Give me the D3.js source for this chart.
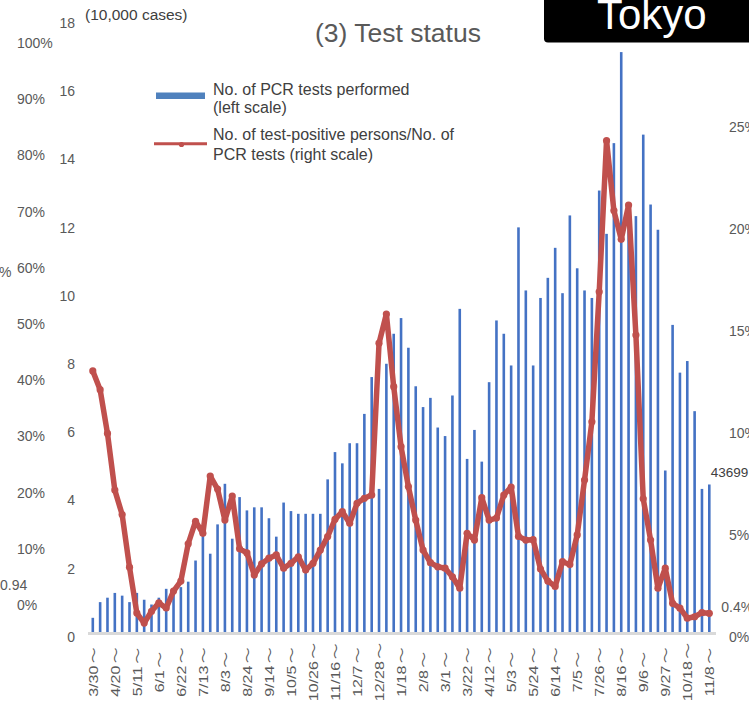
<!DOCTYPE html>
<html>
<head>
<meta charset="utf-8">
<script src="https://cdn.jsdelivr.net/npm/d3@7/dist/d3.min.js"></script>
<style>
  body { margin: 0; background: #fff; }
  svg { display: block; font-family: "Liberation Sans", Arial, "Noto Sans CJK JP", sans-serif; }
</style>
</head>
<body>
<div id="chart"></div>
<script>
// week start dates (3/30/2020 - 11/8/2021)
var weeks = ["3/30","4/6","4/13","4/20","4/27","5/4","5/11","5/18","5/25","6/1",
  "6/8","6/15","6/22","6/29","7/6","7/13","7/20","7/27","8/3","8/10",
  "8/17","8/24","8/31","9/7","9/14","9/21","9/28","10/5","10/12","10/19",
  "10/26","11/2","11/9","11/16","11/23","11/30","12/7","12/14","12/21","12/28",
  "1/4","1/11","1/18","1/25","2/1","2/8","2/15","2/22","3/1","3/8",
  "3/15","3/22","3/29","4/5","4/12","4/19","4/26","5/3","5/10","5/17",
  "5/24","5/31","6/7","6/14","6/21","6/28","7/5","7/12","7/19","7/26",
  "8/2","8/9","8/16","8/23","8/30","9/6","9/13","9/20","9/27","10/4",
  "10/11","10/18","10/25","11/1","11/8"];

// labels shown on the x axis
var tickWeeks = ["3/30","4/20","5/11","6/1","6/22","7/13","8/3","8/24","9/14","10/5",
  "10/26","11/16","12/7","12/28","1/18","2/8","3/1","3/22","4/12","5/3",
  "5/24","6/14","7/5","7/26","8/16","9/6","9/27","10/18","11/8"];

// No. of PCR tests performed (10,000 cases)
var pcrTests = [0.46,0.92,1.05,1.19,1.11,0.92,1.19,0.99,0.85,1.05,
  1.31,1.26,1.36,1.52,2.14,2.92,2.34,3.20,4.39,2.78,
  4.00,3.61,3.70,3.70,3.38,2.84,3.84,3.59,3.51,3.51,
  3.51,3.51,4.52,5.32,4.99,5.58,5.58,6.44,7.52,4.24,
  7.91,8.79,9.25,8.38,7.25,6.64,6.91,6.04,5.79,6.98,
  9.52,5.12,5.97,5.04,7.37,9.18,8.79,7.86,11.91,10.06,
  7.86,9.84,10.43,11.31,9.98,12.26,10.71,10.06,9.84,12.99,
  11.72,14.38,17.05,12.00,12.24,14.63,12.58,11.84,4.78,9.05,
  7.65,7.99,6.52,4.24,4.3699];

// test-positive persons / PCR tests (%)
var positiveRate = [12.87,11.95,9.81,7.03,5.83,3.25,1.00,0.51,1.09,1.50,
  1.25,2.08,2.57,4.40,5.50,4.91,7.72,7.08,5.56,6.74,
  4.15,3.95,2.87,3.41,3.69,3.85,3.20,3.44,3.76,3.11,
  3.44,4.09,4.75,5.60,5.97,5.40,6.38,6.63,6.79,14.23,
  15.66,12.10,9.16,7.20,5.56,4.09,3.47,3.27,3.20,2.78,
  2.22,4.91,4.58,6.66,5.56,5.66,6.79,7.18,4.76,4.58,
  4.60,3.16,2.57,2.31,3.52,3.38,4.83,7.52,10.38,16.75,
  24.16,20.73,19.32,21.00,14.63,6.60,4.58,2.22,3.20,1.48,
  1.24,0.75,0.82,1.02,0.99];

var leftTicks = [0,2,4,6,8,10,12,14,16,18];
var rightTicks = [0,5,10,15,20,25];
var pctTicks = [0,10,20,30,40,50,60,70,80,90,100];

var width = 749, height = 707;
var blue = "#4472C4", red = "#C0504D", grey = "#595959";

var svg = d3.select("#chart").append("svg")
    .attr("width", width)
    .attr("height", height);

svg.append("rect")
    .attr("width", width)
    .attr("height", height)
    .attr("fill", "#fff");

// scales
var x = d3.scalePoint()
    .domain(d3.range(weeks.length))
    .range([92.8, 709.3]);

var yL = d3.scaleLinear().domain([0, 18]).range([633.5, 19.7]);
var yR = d3.scaleLinear().domain([0, 30]).range([633.5, 21.5]);
var yP = d3.scaleLinear().domain([0, 100]).range([605, 43]);

// left axis (10,000 cases)
var gL = svg.append("g")
    .attr("transform", "translate(75,0)")
    .call(d3.axisLeft(yL).tickValues(leftTicks).tickSize(0).tickPadding(0));

// right axis (%)
var gR = svg.append("g")
    .attr("transform", "translate(729,0)")
    .call(d3.axisRight(yR).tickValues(rightTicks).tickSize(0).tickPadding(0)
      .tickFormat(function(d) { return d + "%"; }));

// far left percent axis
var gP = svg.append("g")
    .attr("transform", "translate(17,0)")
    .call(d3.axisRight(yP).tickValues(pctTicks).tickSize(0).tickPadding(0)
      .tickFormat(function(d) { return d + "%"; }));

[gL, gR, gP].forEach(function(g) {
  g.select(".domain").remove();
  g.selectAll("text")
      .attr("fill", grey)
      .style("font-size", "14px")
      .style("font-family", "Liberation Sans, Arial, sans-serif");
});
gL.selectAll("text").attr("dy", "0.55em");
gR.selectAll("text").attr("dy", "0.55em");

// bars
svg.append("g").selectAll("rect")
    .data(pcrTests)
  .enter().append("rect")
    .attr("x", function(d, i) { return x(i) - 1.3; })
    .attr("y", function(d) { return yL(d); })
    .attr("width", 2.6)
    .attr("height", function(d) { return yL(0) - yL(d); })
    .attr("fill", blue);

// x axis
var tickIdx = weeks.map(function(w, i) { return tickWeeks.indexOf(w) >= 0 ? i : -1; })
    .filter(function(i) { return i >= 0; });

var gX = svg.append("g")
    .attr("transform", "translate(0," + yL(0) + ")")
    .call(d3.axisBottom(x).tickValues(tickIdx).tickSize(0)
      .tickFormat(function(i) { return weeks[i]; }));

gX.select(".domain")
    .attr("d", "M88,0H716")
    .attr("stroke", "#D9D9D9")
    .attr("stroke-width", 3);

// rotated, centred labels: date then wave mark
gX.selectAll(".tick text")
    .attr("y", 0)
    .attr("dy", "0.35em")
    .attr("fill", grey)
    .attr("text-anchor", "middle")
    .attr("transform", "translate(0,38.5) rotate(-90) scale(1.23,1)")
    .style("font-size", "13px")
  .append("tspan")
    .attr("dx", 2)
    .style("font-family", "Noto Sans CJK JP, sans-serif")
    .text("～");

// positive rate line
var line = d3.line()
    .x(function(d, i) { return x(i); })
    .y(function(d) { return yR(d); });

svg.append("path")
    .datum(positiveRate)
    .attr("fill", "none")
    .attr("stroke", red)
    .attr("stroke-width", 5.5)
    .attr("stroke-linejoin", "round")
    .attr("stroke-linecap", "round")
    .attr("d", line);

svg.append("g").selectAll("circle")
    .data(positiveRate)
  .enter().append("circle")
    .attr("cx", function(d, i) { return x(i); })
    .attr("cy", function(d) { return yR(d); })
    .attr("r", 3.6)
    .attr("fill", red);

// value labels
var last = pcrTests.length - 1;
svg.append("text")
    .attr("x", x(last) + 1.5)
    .attr("y", yL(pcrTests[last]) - 7)
    .attr("fill", "#404040")
    .style("font-size", "13.5px")
    .text("43699");

svg.append("text")
    .attr("x", x(last) + 12)
    .attr("y", yR(positiveRate[last]) - 1)
    .attr("fill", grey)
    .style("font-size", "14px")
    .text("0.4%");

svg.append("text")
    .attr("x", 0)
    .attr("y", 590)
    .attr("fill", grey)
    .style("font-size", "14px")
    .text("0.94");

svg.append("text")
    .attr("x", -1)
    .attr("y", 277)
    .attr("fill", grey)
    .style("font-size", "14px")
    .text("%");

// unit
svg.append("text")
    .attr("x", 85)
    .attr("y", 20)
    .attr("fill", "#404040")
    .style("font-size", "15.5px")
    .text("(10,000 cases)");

// title
svg.append("text")
    .attr("x", 315)
    .attr("y", 41.5)
    .attr("fill", grey)
    .style("font-size", "26.5px")
    .text("(3) Test status");

// Tokyo box
svg.append("rect")
    .attr("x", 544)
    .attr("y", -10)
    .attr("width", 220)
    .attr("height", 52.5)
    .attr("rx", 4)
    .attr("fill", "#000");

svg.append("text")
    .attr("x", 597)
    .attr("y", 28.5)
    .attr("fill", "#fff")
    .style("font-size", "42px")
    .text("Tokyo");

// legend
var legend = svg.append("g");

legend.append("rect")
    .attr("x", 156)
    .attr("y", 92.5)
    .attr("width", 49)
    .attr("height", 6.5)
    .attr("fill", "#4F81BD");

legend.append("line")
    .attr("x1", 154)
    .attr("x2", 207)
    .attr("y1", 143.7)
    .attr("y2", 143.7)
    .attr("stroke", red)
    .attr("stroke-width", 3);

legend.append("circle")
    .attr("cx", 181.5)
    .attr("cy", 144.5)
    .attr("r", 2.6)
    .attr("fill", red);

var legendLines = [
  ["No. of PCR tests performed", 95],
  ["(left scale)", 112.5],
  ["No. of test-positive persons/No. of", 140],
  ["PCR tests (right scale)", 159.5]
];

legend.selectAll("text.item")
    .data(legendLines)
  .enter().append("text")
    .attr("class", "item")
    .attr("x", 213)
    .attr("y", function(d) { return d[1]; })
    .attr("fill", "#404040")
    .style("font-size", "16px")
    .text(function(d) { return d[0]; });
</script>
</body>
</html>
